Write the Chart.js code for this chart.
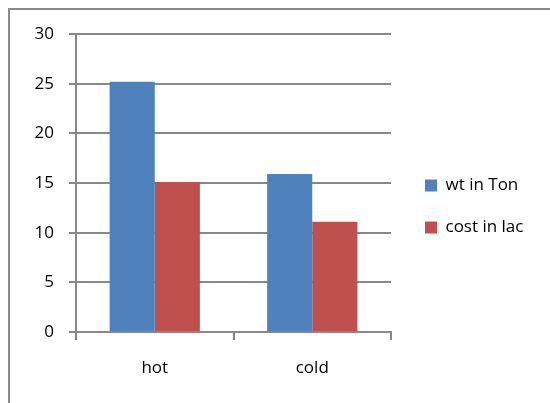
<!DOCTYPE html>
<html><head><meta charset="utf-8">
<script src="https://cdn.jsdelivr.net/npm/chart.js@4/dist/chart.umd.min.js"></script>
<style>
html,body{margin:0;padding:0;background:#fff;overflow:hidden}
#wrap{position:relative;width:550px;height:403px}
#frame{position:absolute;left:8px;top:8px;width:600px;height:450px;border:2px solid #8a8a8a;box-sizing:border-box;pointer-events:none}
canvas{position:absolute;left:0;top:0}
</style></head>
<body><div id="wrap"><canvas id="c" width="550" height="403"></canvas><div id="frame"></div></div>
<script>
const categories = ["hot", "cold"];
const wtInTon = [25.2, 15.9];
const costInLac = [15.1, 11.1];
const seriesNames = ["wt in Ton", "cost in lac"];
const yTicks = [0, 5, 10, 15, 20, 25, 30];

const FONT = "'Open Sans', sans-serif";
const FSIZE = 17;
const gridCol = "#888888";

const legendPos = {
  id: "legendPos",
  beforeLayout(chart) {
    const lg = chart.legend;
    if (lg && !lg._fixedFit) {
      const f = lg.fit.bind(lg);
      lg.fit = function () { f(); this.width = 159; };
      lg._fixedFit = true;
    }
  },
  afterLayout(chart) {
    const lg = chart.legend;
    const w = lg.width, h = lg.height;
    lg.left = 400; lg.right = 400 + w;
    lg.top = 152; lg.bottom = 152 + h;
  }
};

new Chart(document.getElementById("c"), {
  type: "bar",
  data: {
    labels: categories,
    datasets: [
      { label: seriesNames[0], data: wtInTon, backgroundColor: "#4f81bd", borderWidth: 0 },
      { label: seriesNames[1], data: costInLac, backgroundColor: "#c0504d", borderWidth: 0 }
    ]
  },
  options: {
    responsive: false,
    animation: false,
    devicePixelRatio: 1,
    layout: { padding: { left: 0, top: 34, right: 0, bottom: 0 } },
    datasets: { bar: { categoryPercentage: 0.573, barPercentage: 1 } },
    plugins: {
      tooltip: { enabled: false },
      legend: {
        position: "right",
        align: "start",
        labels: {
          boxWidth: 12, boxHeight: 12, padding: 25,
          color: "#000", font: { family: FONT, size: FSIZE }
        }
      }
    },
    scales: {
      x: {
        grid: { display: true, drawOnChartArea: false, drawTicks: true, tickLength: 8, color: gridCol, lineWidth: 2, offset: true },
        border: { display: true, color: gridCol, width: 2 },
        ticks: { color: "#000", font: { family: FONT, size: FSIZE }, padding: 18 },
        afterFit(s) { s.height = 71; }
      },
      y: {
        min: 0, max: 30,
        afterBuildTicks(s) { s.ticks = yTicks.map(v => ({ value: v })); },
        grid: { color: gridCol, lineWidth: 2, tickLength: 7 },
        border: { display: true, color: gridCol, width: 2 },
        ticks: { color: "#000", font: { family: FONT, size: FSIZE }, padding: 15 },
        afterFit(s) { s.width = 76; }
      }
    }
  },
  plugins: [legendPos]
});
</script>
</body></html>
